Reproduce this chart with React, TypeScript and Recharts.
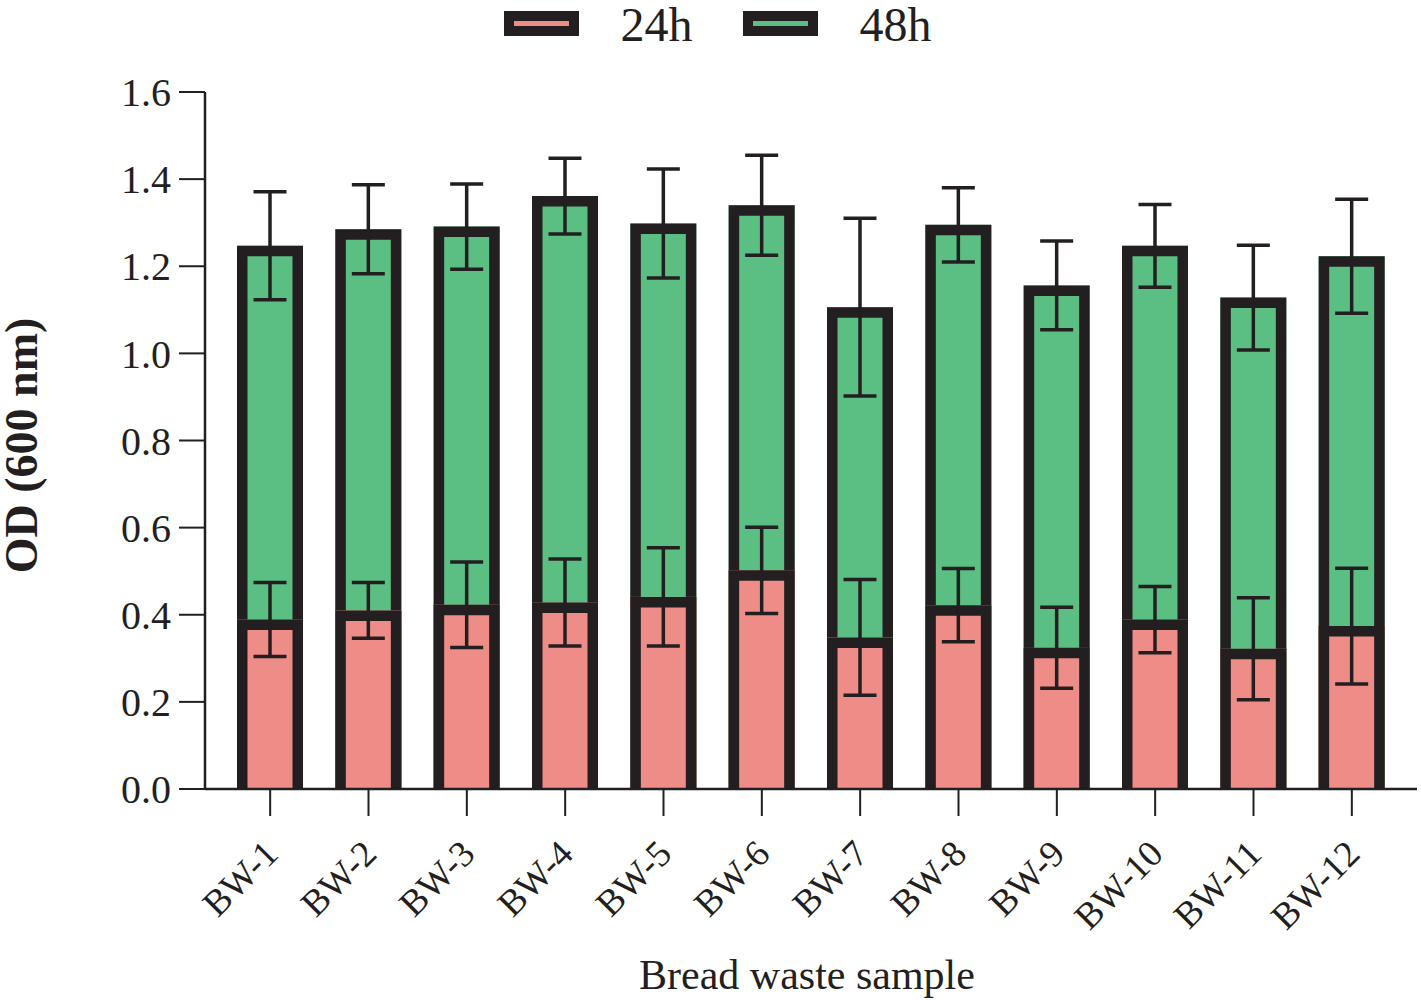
import React from 'react'
import { Bar, BarChart, ErrorBar, Legend, XAxis, YAxis } from 'recharts'

const samples = ['BW-1', 'BW-2', 'BW-3', 'BW-4', 'BW-5', 'BW-6', 'BW-7', 'BW-8', 'BW-9', 'BW-10', 'BW-11', 'BW-12']
const od24h = [0.389, 0.41, 0.423, 0.428, 0.441, 0.502, 0.348, 0.422, 0.324, 0.389, 0.322, 0.374]
const sd24h = [0.085, 0.064, 0.098, 0.1, 0.113, 0.099, 0.133, 0.084, 0.093, 0.076, 0.117, 0.133]
const od48h = [1.247, 1.285, 1.291, 1.361, 1.298, 1.34, 1.106, 1.295, 1.156, 1.247, 1.128, 1.223]
const sd48h = [0.124, 0.102, 0.098, 0.087, 0.125, 0.115, 0.204, 0.085, 0.102, 0.095, 0.12, 0.131]
const yTicks = [0, 0.2, 0.4, 0.6, 0.8, 1.0, 1.2, 1.4, 1.6]

const INK = '#231f20'
const PINK = '#ee8d88'
const GREEN = '#5bbe83'
const FONT = '"Liberation Serif", "Times New Roman", serif'
const BORDER = 10.5

const series = [
  { label: '24h', color: PINK },
  { label: '48h', color: GREEN },
]

const data = samples.map((name, i) => ({
  name,
  h24: od24h[i],
  e24: sd24h[i],
  h48: od48h[i],
  e48: sd48h[i],
}))

// prism style: border drawn inside the bar, open at the baseline
function OutlinedBar(props: any) {
  const { x, y, width, height, fill } = props
  if (!height) return null
  const h = BORDER / 2
  const bottom = y + height
  return (
    <g>
      <rect x={x} y={y} width={width} height={height} fill={fill} />
      <path
        d={`M${x + h},${bottom} L${x + h},${y + h} L${x + width - h},${y + h} L${x + width - h},${bottom}`}
        fill="none"
        stroke={INK}
        strokeWidth={BORDER}
        strokeLinejoin="miter"
      />
    </g>
  )
}

function SampleTick({ x, y, payload }: any) {
  const ax = x + 10
  const ay = y + 38
  return (
    <text
      x={ax}
      y={ay}
      transform={`rotate(-45 ${ax} ${ay})`}
      textAnchor="end"
      fontSize={37}
      fontFamily={FONT}
      fill={INK}
    >
      {payload.value}
    </text>
  )
}

function LegendContent() {
  return (
    <div
      style={{
        display: 'flex',
        justifyContent: 'center',
        alignItems: 'flex-start',
        height: 56,
        paddingLeft: 14,
        fontFamily: FONT,
        fontSize: 48,
        color: INK,
      }}
    >
      {series.map((s, i) => (
        <div key={s.label} style={{ display: 'flex', alignItems: 'flex-start', marginLeft: i ? 50 : 0 }}>
          <svg width={75} height={25} style={{ display: 'block', marginTop: 11 }}>
            <rect width={75} height={25} fill={INK} />
            <rect x={10} y={10} width={55} height={5} fill={s.color} />
          </svg>
          <span style={{ marginLeft: 42, lineHeight: '50px', height: 50 }}>{s.label}</span>
        </div>
      ))}
    </div>
  )
}

export default function App() {
  return (
    <div style={{ position: 'absolute', left: 0, top: 0, width: 1421, height: 1000, background: '#fff' }}>
      <BarChart
        width={1421}
        height={1000}
        data={data}
        margin={{ top: 36, right: 4, bottom: 0, left: 0 }}
        barSize={66}
        barGap={-66}
      >
        <Legend verticalAlign="top" content={<LegendContent />} wrapperStyle={{ top: 0, left: 0, width: 1421 }} />
        <XAxis
          dataKey="name"
          interval={0}
          height={211}
          padding={{ left: 16, right: 16 }}
          tickSize={27}
          tickLine={{ stroke: INK, strokeWidth: 2 }}
          axisLine={{ stroke: INK, strokeWidth: 2.5 }}
          tick={<SampleTick />}
          label={{
            content: ({ viewBox }: any) => (
              <text
                x={viewBox.x + viewBox.width / 2 - 4}
                y={989}
                textAnchor="middle"
                fontSize={42}
                fontFamily={FONT}
                fill={INK}
              >
                Bread waste sample
              </text>
            ),
          }}
        />
        <YAxis
          width={205}
          domain={[0, 1.6]}
          ticks={yTicks}
          tickSize={26}
          tickMargin={8}
          tickFormatter={(v: number) => v.toFixed(1)}
          tick={{ fill: INK, fontSize: 40, fontFamily: FONT }}
          tickLine={{ stroke: INK, strokeWidth: 2 }}
          axisLine={{ stroke: INK, strokeWidth: 2.5 }}
          label={{
            content: ({ viewBox }: any) => {
              const cy = viewBox.y + viewBox.height / 2 + 5
              return (
                <text
                  x={21}
                  y={cy}
                  transform={`rotate(-90 21 ${cy})`}
                  textAnchor="middle"
                  dominantBaseline="central"
                  fontSize={46}
                  fontWeight="bold"
                  fontFamily={FONT}
                  fill={INK}
                >
                  OD (600 nm)
                </text>
              )
            },
          }}
        />
        <Bar dataKey="h48" fill={GREEN} shape={OutlinedBar} isAnimationActive={false}>
          <ErrorBar dataKey="e48" direction="y" width={16.5} stroke={INK} strokeWidth={3.5} />
        </Bar>
        <Bar dataKey="h24" fill={PINK} shape={OutlinedBar} isAnimationActive={false}>
          <ErrorBar dataKey="e24" direction="y" width={16.5} stroke={INK} strokeWidth={3.5} />
        </Bar>
      </BarChart>
    </div>
  )
}
